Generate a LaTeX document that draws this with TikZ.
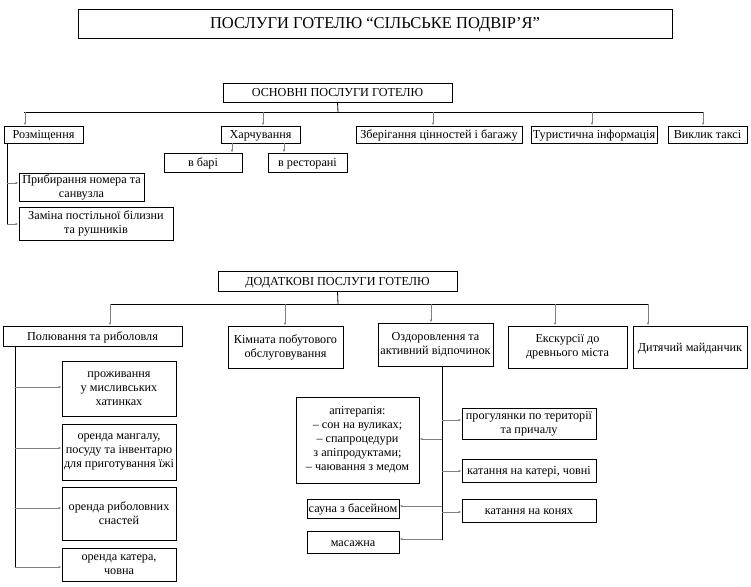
\documentclass[tikz,border=0pt]{standalone}
\usepackage{fontspec}
\setmainfont{Liberation Serif}
\usetikzlibrary{arrows.meta}
\newcommand{\fsbox}{\fontsize{12.2}{14}\selectfont}
\newcommand{\fshead}{\fontsize{12.2}{14}\selectfont}
\newcommand{\fstitle}{\fontsize{16.5}{18}\selectfont}
\tikzset{
  box/.style={draw, line width=0.8pt, inner sep=1pt, align=center, font=\fsbox},
  one/.style={text height=9.5pt, text depth=1.5pt},
  bus/.style={draw, line width=0.8pt},
  arr/.style={draw=gray, line width=0.6pt, -{Latex[length=3pt,width=2.2pt]}}
}
\begin{document}
\begin{tikzpicture}[x=1pt,y=-1pt]
\useasboundingbox (0,0) rectangle (751,586);
% title
\node[box, one, font=\fstitle, text height=12pt, text depth=2pt, minimum width=594, minimum height=29] (title) at (375,23.5) {ПОСЛУГИ ГОТЕЛЮ “СІЛЬСЬКЕ ПОДВІР’Я”};
% main services
\node[box, one, font=\fshead, minimum width=229, minimum height=19] (osn) at (337.5,92.5) {ОСНОВНІ ПОСЛУГИ ГОТЕЛЮ};
\node[box, one, minimum width=79, minimum height=17] (rozm) at (43.5,134.5) {Розміщення};
\node[box, one, minimum width=79, minimum height=17] (harch) at (260.5,134.5) {Харчування};
\node[box, one, minimum width=166, minimum height=17] (zber) at (439,134.5) {Зберігання цінностей і багажу};
\node[box, one, minimum width=126, minimum height=17] (tur) at (594,134.5) {Туристична інформація};
\node[box, one, minimum width=79, minimum height=17] (taxi) at (707.5,134.5) {Виклик таксі};
\node[box, one, minimum width=78, minimum height=19] (bar) at (203,162.5) {в барі};
\node[box, one, minimum width=79, minimum height=19] (rest) at (307.5,162.5) {в ресторані};
\node[box, minimum width=125, minimum height=28] (prib) at (81.5,187) {Прибирання номера та\\санвузла};
\node[box, minimum width=154, minimum height=33] (zam) at (96,223.5) {Заміна постільної білизни\\та рушників};
% main bus
\coordinate (m0) at (338,112);
\coordinate (mL) at (24,112);
\coordinate (mR) at (704,112);
\draw[bus] (osn.south) -- (m0);
\draw[bus] (mL) -- (mR);
\coordinate (t1) at (25,112);
\coordinate (t2) at (263,112);
\coordinate (t3) at (433,112);
\coordinate (t4) at (592,112);
\coordinate (t5) at (703,112);
\draw[arr] (t1) -- (t1 |- rozm.north);
\draw[arr] (t2) -- (t2 |- harch.north);
\draw[arr] (t3) -- (t3 |- zber.north);
\draw[arr] (t4) -- (t4 |- tur.north);
\draw[arr] (t5) -- (t5 |- taxi.north);
\coordinate (h1) at (232,143);
\coordinate (h2) at (284,143);
\draw[arr] (h1) -- (h1 |- bar.north);
\draw[arr] (h2) -- (h2 |- rest.north);
\coordinate (r0) at (7,143);
\coordinate (r1) at (7,183);
\coordinate (r2) at (7,224);
\draw[bus] (r0) -- (r2);
\draw[arr] (r1) -- (r1 -| prib.west);
\draw[arr] (r2) -- (r2 -| zam.west);
% additional services
\node[box, one, font=\fshead, minimum width=239, minimum height=20] (dod) at (337.5,281) {ДОДАТКОВІ ПОСЛУГИ ГОТЕЛЮ};
\node[box, one, minimum width=179, minimum height=20] (pol) at (92.5,336) {Полювання та риболовля};
\node[box, minimum width=115, minimum height=42] (kim) at (285.5,347) {Кімната побутового\\обслуговування};
\node[box, minimum width=115, minimum height=43] (ozd) at (435.5,344.5) {Оздоровлення та\\активний відпочинок};
\node[box, minimum width=119, minimum height=42] (eks) at (567.5,347) {Екскурсії до\\древнього міста};
\node[box, one, minimum width=114, minimum height=42] (dyt) at (690,347) {Дитячий майданчик};
\coordinate (d0) at (338,304);
\coordinate (dL) at (110,304);
\coordinate (dR) at (649,304);
\draw[bus] (dod.south) -- (d0);
\draw[bus] (dL) -- (dR);
\coordinate (u1) at (110,304);
\coordinate (u2) at (285,304);
\coordinate (u3) at (431,304);
\coordinate (u4) at (555,304);
\coordinate (u5) at (648,304);
\draw[arr] (u1) -- (u1 |- pol.north);
\draw[arr] (u2) -- (u2 |- kim.north);
\draw[arr] (u3) -- (u3 |- ozd.north);
\draw[arr] (u4) -- (u4 |- eks.north);
\draw[arr] (u5) -- (u5 |- dyt.north);
% hunting column
\node[box, minimum width=114, minimum height=55] (proz) at (119,388.5) {проживання\\у мисливських\\хатинках};
\node[box, minimum width=114, minimum height=56] (mang) at (119,452) {оренда мангалу,\\посуду та інвентарю\\для приготування їжі};
\node[box, minimum width=114, minimum height=53] (ryb) at (119,513.5) {оренда риболовних\\снастей};
\node[box, minimum width=114, minimum height=33] (kat) at (119,564.5) {оренда катера,\\човна};
\coordinate (p0) at (15,346);
\coordinate (p1) at (15,387);
\coordinate (p2) at (15,448);
\coordinate (p3) at (15,508);
\coordinate (p4) at (15,567);
\draw[bus] (p0) -- (p4);
\draw[arr] (p1) -- (p1 -| proz.west);
\draw[arr] (p2) -- (p2 -| mang.west);
\draw[arr] (p3) -- (p3 -| ryb.west);
\draw[arr] (p4) -- (p4 -| kat.west);
% health column
\node[box, minimum width=123, minimum height=86] (api) at (357.5,440) {апітерапія:\\– сон на вуликах;\\– спапроцедури\\з апіпродуктами;\\– чаювання з медом};
\node[box, one, minimum width=92, minimum height=19] (sau) at (353,508.5) {сауна з басейном};
\node[box, one, minimum width=92, minimum height=22] (mas) at (353,542) {масажна};
\node[box, minimum width=134, minimum height=31] (prog) at (529,423.5) {прогулянки по території\\та причалу};
\node[box, one, minimum width=134, minimum height=23] (katn) at (529,470.5) {катання на катері, човні};
\node[box, one, minimum width=134, minimum height=23] (kon) at (529,510.5) {катання на конях};
\coordinate (o0) at (442,366);
\coordinate (o9) at (442,540);
\draw[bus] (o0) -- (o9);
\coordinate (o1) at (442,439);
\coordinate (o2) at (442,506);
\coordinate (o3) at (442,539);
\coordinate (o4) at (442,420);
\coordinate (o5) at (442,471);
\coordinate (o6) at (442,512);
\draw[arr] (o1) -- (o1 -| api.east);
\draw[arr] (o2) -- (o2 -| sau.east);
\draw[arr] (o3) -- (o3 -| mas.east);
\draw[arr] (o4) -- (o4 -| prog.west);
\draw[arr] (o5) -- (o5 -| katn.west);
\draw[arr] (o6) -- (o6 -| kon.west);
\end{tikzpicture}
\end{document}
